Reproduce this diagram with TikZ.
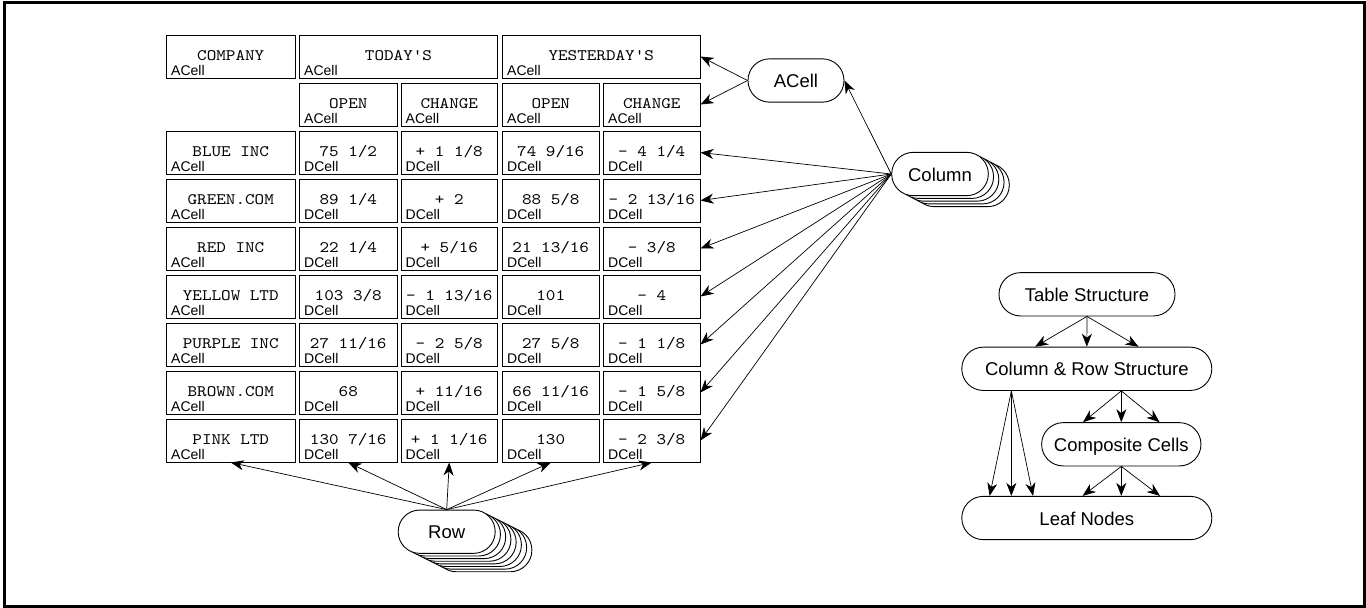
\documentclass[tikz,border=0pt]{standalone}
\usepackage{fontspec}
\setmainfont{Liberation Sans}
\setsansfont{Liberation Sans}
\newfontfamily\cour[Extension=.otf, FakeStretch=1.14]{lmmono10-regular}
\usetikzlibrary{arrows.meta,calc}

\newcommand\tcell[6]{%
  \node[cell, minimum width={#3-#2}] (#1) at ({(#2+#3)/2},{#4+21.5}) {#5};
  \node[tag] (#1t) at ($(#1.south west)+(5,-3)$) {#6};}
\newcommand\datarow[6]{%
  \pgfmathsetmacro\tp{35+48*#1}
  \tcell{r#1c0}{166.5}{295}{\tp}{#2}{ACell}
  \tcell{r#1c1}{299.5}{397}{\tp}{#3}{DCell}
  \tcell{r#1c2}{401}{497.5}{\tp}{#4}{DCell}
  \tcell{r#1c3}{502.5}{599}{\tp}{#5}{DCell}
  \tcell{r#1c4}{603.5}{700}{\tp}{#6}{DCell}}

\begin{document}
\begin{tikzpicture}[x=1pt,y=-1pt,
  cell/.style={draw, line width=1pt, inner sep=0pt, minimum height=43pt,
    text height=10pt, text depth=2pt, font=\fontsize{16}{18}\cour},
  tag/.style={anchor=base west, inner sep=0pt, font=\fontsize{14}{16}\selectfont},
  rnode/.style={draw, line width=0.9pt, rounded corners=21.5pt, minimum height=43.3pt,
    inner sep=0pt, fill=white, text height=14pt, text depth=0pt, font=\fontsize{18.5}{20}\selectfont},
  arr/.style={line width=0.7pt, -{Stealth[length=13pt, width=10pt, inset=4pt]}}]
\useasboundingbox (0,0) rectangle (1366,608);
\draw[line width=3pt] (4.3,2.2) rectangle (1364,606.8);

% header rows
\tcell{r0c0}{166.5}{295}{35}{COMPANY}{ACell}
\tcell{r0c1}{299.5}{497.5}{35}{TODAY'S}{ACell}
\tcell{r0c3}{502.5}{700}{35}{YESTERDAY'S}{ACell}
\tcell{r1c1}{299.5}{397}{83}{OPEN}{ACell}
\tcell{r1c2}{401}{497.5}{83}{CHANGE}{ACell}
\tcell{r1c3}{502.5}{599}{83}{OPEN}{ACell}
\tcell{r1c4}{603.5}{700}{83}{CHANGE}{ACell}

% data rows
\datarow{2}{BLUE INC}{75 1/2}{+ 1 1/8}{74 9/16}{- 4 1/4}
\datarow{3}{GREEN.COM}{89 1/4}{+ 2}{88 5/8}{- 2 13/16}
\datarow{4}{RED INC}{22 1/4}{+ 5/16}{21 13/16}{- 3/8}
\datarow{5}{YELLOW LTD}{103 3/8}{- 1 13/16}{101}{- 4}
\datarow{6}{PURPLE INC}{27 11/16}{- 2 5/8}{27 5/8}{- 1 1/8}
\datarow{7}{BROWN.COM}{68}{+ 11/16}{66 11/16}{- 1 5/8}
\datarow{8}{PINK LTD}{130 7/16}{+ 1 1/16}{130}{- 2 3/8}

% ACell node
\node[rnode, minimum width=96pt] (acell) at (796,80.5) {ACell};

% Column stack
\foreach \i in {4,3,2,1}
  \node[rnode, minimum width=96.6pt] (colS\i) at ($(940,174)+(\i*5.25,\i*2.75)$) {};
\node[rnode, minimum width=96.6pt] (column) at (940,174) {Column};

% Row stack
\foreach \i in {7,6,5,4,3,2,1}
  \node[rnode, minimum width=97pt] (rowS\i) at ($(446.7,531.7)+(\i*5.24,\i*2.63)$) {};
\node[rnode, minimum width=97pt] (row) at (446.7,531.7) {Row};

% ACell arrows
\draw[arr] (acell.west) -- (r0c3.east);
\draw[arr] (acell.west) -- (r1c4.east);
\draw[arr] (column.west) -- (acell.east);

% Column arrows
\foreach \k in {2,...,8}
  \draw[arr] (column.west) -- (r\k c4.east);

% Row arrows
\foreach \c in {0,...,4}
  \draw[arr] (row.north) -- (r8c\c.south);

% hierarchy
\node[rnode, minimum width=176pt] (ts) at (1087,294.3) {Table Structure};
\node[rnode, minimum width=250pt] (crs) at (1086.8,368.8) {Column \& Row Structure};
\node[rnode, minimum width=159.3pt] (cc) at (1121.3,444.3) {Composite Cells};
\node[rnode, minimum width=250pt] (leaf) at (1086.8,518) {Leaf Nodes};

\foreach \d in {-51.7,0,51.7}
  \draw[arr] (ts.south) -- ($(crs.north)+(\d,0)$);
\foreach \d in {-38.3,0,38.3}
  \draw[arr] (cc.north |- crs.south) -- ($(cc.north)+(\d,0)$);
\foreach \d in {-21.7,0,21.7}
  \draw[arr] ($(crs.south west)+(50,0)$) -- ($(crs.south west |- leaf.north)+(50+\d,0)$);
\foreach \d in {-38.7,0,38.7}
  \draw[arr] (cc.south) -- ($(cc.south |- leaf.north)+(\d,0)$);
\end{tikzpicture}
\end{document}
